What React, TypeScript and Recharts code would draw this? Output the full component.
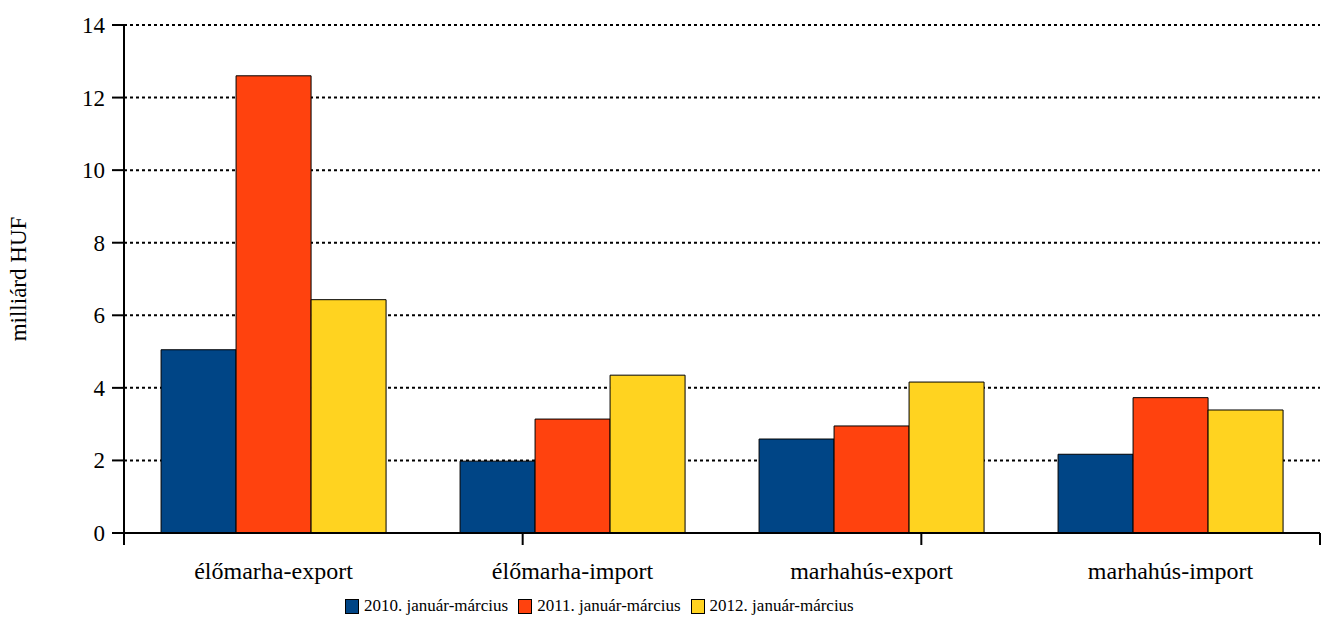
import React from "react";
import {
  BarChart,
  Bar,
  XAxis,
  YAxis,
  CartesianGrid,
  Legend,
} from "recharts";

const categories = [
  "élőmarha-export",
  "élőmarha-import",
  "marhahús-export",
  "marhahús-import",
];
const values2010 = [5.05, 1.98, 2.59, 2.17];
const values2011 = [12.6, 3.14, 2.95, 3.73];
const values2012 = [6.43, 4.35, 4.16, 3.39];
const seriesNames = [
  "2010. január-március",
  "2011. január-március",
  "2012. január-március",
];
const yTicks = [0, 2, 4, 6, 8, 10, 12, 14];
const boundaryTicks = [0, 1, 2, 3, 4];

const colors = ["#004586", "#ff420e", "#ffd320"];
const font = "'Liberation Serif', serif";

const data = categories.map((name, i) => ({
  name,
  s2010: values2010[i],
  s2011: values2011[i],
  s2012: values2012[i],
}));

const renderLegend = () => (
  <div
    style={{
      display: "flex",
      alignItems: "center",
      fontFamily: font,
      fontSize: 17,
      color: "#000",
      whiteSpace: "nowrap",
    }}
  >
    {seriesNames.map((n, i) => (
      <span
        key={n}
        style={{ display: "flex", alignItems: "center", marginRight: 10 }}
      >
        <span
          style={{
            display: "inline-block",
            width: 12,
            height: 13,
            background: colors[i],
            border: "1px solid #000",
            marginRight: 5,
          }}
        />
        {n}
      </span>
    ))}
  </div>
);

// tick marks only, at the category boundaries
const emptyTick = () => <g />;

const CatTick = (props: any) => {
  const { x, y, payload } = props;
  return (
    <text
      x={x}
      y={y + 37}
      textAnchor="middle"
      fill="#000"
      fontFamily="Liberation Serif"
      fontSize={24}
    >
      {payload.value}
    </text>
  );
};

const renderYTick = (props: any) => {
  const { x, y, payload } = props;
  return (
    <text
      key={payload.value}
      x={x}
      y={y + 8}
      textAnchor="end"
      fill="#000"
      fontFamily="Liberation Serif"
      fontSize={23}
    >
      {payload.value}
    </text>
  );
};

export default function App() {
  return (
    <div style={{ position: "absolute", left: 0, top: 0 }}>
      <BarChart
        width={1321}
        height={624}
        data={data}
        margin={{ top: 25, right: 1, bottom: 40, left: 0 }}
        barCategoryGap="12.4%"
        barGap={0}
      >
        <CartesianGrid
          vertical={false}
          stroke="#000"
          strokeWidth={2}
          strokeDasharray="3 3"
          xAxisId="axisA"
        />
        <XAxis
          xAxisId="axisA"
          type="number"
          domain={[0, 4]}
          allowDataOverflow
          ticks={boundaryTicks}
          interval={0}
          tick={emptyTick}
          height={1}
          tickSize={12}
          axisLine={{ stroke: "#000", strokeWidth: 2 }}
          tickLine={{ stroke: "#000", strokeWidth: 2 }}
        />
        <XAxis
          xAxisId="axisB"
          dataKey="name"
          height={50}
          axisLine={false}
          tickLine={false}
          tick={<CatTick />}
        />
        <YAxis
          width={124}
          domain={[0, 14]}
          ticks={yTicks}
          interval={0}
          tickSize={12}
          tickMargin={7}
          axisLine={{ stroke: "#000", strokeWidth: 2 }}
          tickLine={{ stroke: "#000", strokeWidth: 2 }}
          tick={renderYTick}
          label={{
            value: "milliárd HUF",
            angle: -90,
            position: "insideLeft",
            offset: 18,
            style: {
              textAnchor: "middle",
              fontFamily: font,
              fontSize: 23,
              fill: "#000",
            },
          }}
        />
        <Legend
          verticalAlign="middle"
          layout="horizontal"
          content={renderLegend}
          wrapperStyle={{ position: "absolute", left: 345, top: 596, width: "auto" }}
        />
        <Bar
          xAxisId="axisB"
          dataKey="s2010"
          name={seriesNames[0]}
          fill={colors[0]}
          stroke="#000"
          strokeWidth={1}
          isAnimationActive={false}
        />
        <Bar
          xAxisId="axisB"
          dataKey="s2011"
          name={seriesNames[1]}
          fill={colors[1]}
          stroke="#000"
          strokeWidth={1}
          isAnimationActive={false}
        />
        <Bar
          xAxisId="axisB"
          dataKey="s2012"
          name={seriesNames[2]}
          fill={colors[2]}
          stroke="#000"
          strokeWidth={1}
          isAnimationActive={false}
        />
      </BarChart>
    </div>
  );
}
